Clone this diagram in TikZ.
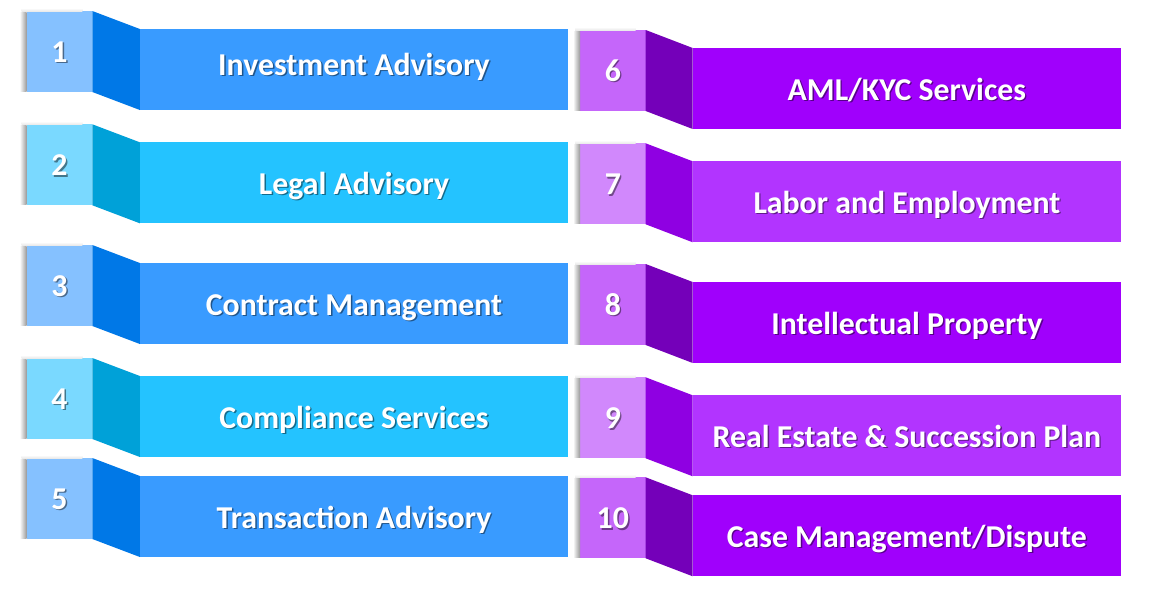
\documentclass[tikz,border=0pt]{standalone}
\usepackage{fontspec}
\setmainfont{Carlito}
\definecolor{bsq}{HTML}{85C1FF}
\definecolor{bside}{HTML}{0078E7}
\definecolor{bbar}{HTML}{399BFF}
\definecolor{csq}{HTML}{7AD9FF}
\definecolor{cside}{HTML}{00A1D8}
\definecolor{cbar}{HTML}{24C3FF}
\definecolor{psq}{HTML}{C566FA}
\definecolor{pside}{HTML}{7400B9}
\definecolor{pbar}{HTML}{A000FC}
\definecolor{lsq}{HTML}{D188FC}
\definecolor{lside}{HTML}{8F00E2}
\definecolor{lbar}{HTML}{B234FF}
\tikzset{
  sqbox/.style={inner sep=0pt, outer sep=0pt, minimum width=65.7pt, minimum height=81pt},
  barbox/.style={inner sep=0pt, outer sep=0pt, minimum width=428.3pt, minimum height=81pt},
  lbltxt/.style={inner sep=0pt, anchor=base, font=\bfseries\fontsize{31.8}{36}\selectfont, text=white},
  lblshadow/.style={lbltxt, text=black, opacity=0.45},
}
\newcommand\mkrow[9]{%
  \node[sqbox, fill=#5] (sq#1) at (#2,#3) {};
  \shade[left color=white, right color=black!40] ([xshift=-7pt,yshift=-1pt]sq#1.north west) rectangle ([yshift=1pt]sq#1.south west);
  \shade[top color=white, bottom color=black!8] ([xshift=-5pt,yshift=3pt]sq#1.north west) rectangle ([xshift=-10pt]sq#1.north east);
  \node[barbox, fill=#7] (bar#1) at (#4,#3+18) {};
  \fill[#6] (sq#1.north east) -- (bar#1.north west) -- (bar#1.south west) -- (sq#1.south east) -- cycle;
  \node[lblshadow] (ns#1) at ([xshift=1.4pt,yshift=-12.2pt]sq#1.center) {#8};
  \node[lbltxt] (n#1) at ([yshift=-10.8pt]sq#1.center) {#8};
  \node[lblshadow] (ts#1) at ([xshift=1.4pt,yshift=-\lbloff-1.4pt]bar#1.center) {#9};
  \node[lbltxt] (t#1) at ([yshift=-\lbloff]bar#1.center) {#9};
}
\newcommand\lbloff{11pt}
\begin{document}
\begin{tikzpicture}[x=1pt,y=-1pt]
\useasboundingbox[fill=white] (0,0) rectangle (1151,598);
\renewcommand\lbloff{5.5pt}
\mkrow{1}{59.5}{51.5}{354}{bsq}{bside}{bbar}{1}{Investment Advisory}
\renewcommand\lbloff{11.5pt}
\mkrow{2}{59.5}{164.8}{354}{csq}{cside}{cbar}{2}{Legal Advisory}
\mkrow{3}{59.5}{285.5}{354}{bsq}{bside}{bbar}{3}{Contract Management}
\mkrow{4}{59.5}{398.5}{354}{csq}{cside}{cbar}{4}{Compliance Services}
\mkrow{5}{59.5}{498.5}{354}{bsq}{bside}{bbar}{5}{Transaction Advisory}
\mkrow{6}{612.85}{70.5}{906.85}{psq}{pside}{pbar}{6}{AML/KYC Services}
\mkrow{7}{612.85}{183.8}{906.85}{lsq}{lside}{lbar}{7}{Labor and Employment}
\mkrow{8}{612.85}{304.5}{906.85}{psq}{pside}{pbar}{8}{Intellectual Property}
\mkrow{9}{612.85}{417.8}{906.85}{lsq}{lside}{lbar}{9}{Real Estate \& Succession Plan}
\mkrow{10}{612.85}{517.8}{906.85}{psq}{pside}{pbar}{10}{Case Management/Dispute}
\end{tikzpicture}
\end{document}
